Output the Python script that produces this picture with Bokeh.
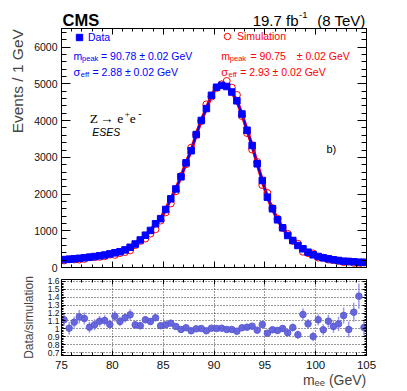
import math
from bokeh.plotting import figure
from bokeh.layouts import column
from bokeh.core.properties import value
from bokeh.models import (Range1d, LinearAxis, SingleIntervalTicker, Label, Legend,
                          LegendItem, ColumnDataSource, CustomJSTickFormatter)
from bokeh.embed import file_html
from bokeh.resources import INLINE

# ---------------- data ----------------
mass = [75.25, 75.75, 76.25, 76.75, 77.25, 77.75, 78.25, 78.75, 79.25, 79.75,
        80.25, 80.75, 81.25, 81.75, 82.25, 82.75, 83.25, 83.75, 84.25, 84.75,
        85.25, 85.75, 86.25, 86.75, 87.25, 87.75, 88.25, 88.75, 89.25, 89.75,
        90.25, 90.75, 91.25, 91.75, 92.25, 92.75, 93.25, 93.75, 94.25, 94.75,
        95.25, 95.75, 96.25, 96.75, 97.25, 97.75, 98.25, 98.75, 99.25, 99.75,
        100.25, 100.75, 101.25, 101.75, 102.25, 102.75, 103.25, 103.75, 104.25, 104.75]

data_events = [215, 225, 237, 250, 265, 282, 298, 318, 340, 370,
               400, 430, 480, 550, 640, 750, 880, 1010, 1190, 1330,
               1580, 1870, 2140, 2470, 2850, 3180, 3620, 4005, 4330, 4690,
               4910, 4960, 4930, 4780, 4540, 4180, 3740, 3324, 2825, 2371,
               1916, 1599, 1299, 1082, 872, 736, 600, 510, 417, 346,
               300, 264, 237, 210, 191, 172, 163, 155, 145, 140]

sim_events = [193, 223, 219, 217, 234, 276, 284, 290, 307, 351,
              345, 393, 421, 467, 609, 721, 789, 924, 1044, 1279,
              1503, 1744, 2078, 2490, 2813, 3262, 3620, 3989, 4441, 4653,
              4890, 4990, 5080, 4900, 4700, 4126, 3663, 3215, 2874, 2247,
              2028, 1618, 1327, 1078, 918, 724, 649, 431, 392, 383,
              269, 267, 216, 204, 180, 147, 164, 128, 103, 138]

ratio = [1.115, 1.008, 1.084, 1.152, 1.131, 1.021, 1.051, 1.097, 1.106, 1.055,
         1.160, 1.093, 1.140, 1.178, 1.051, 1.040, 1.115, 1.093, 1.140, 1.040,
         1.051, 1.072, 1.030, 0.992, 1.013, 0.975, 1.000, 1.004, 0.975, 1.008,
         1.004, 1.008, 0.992, 0.992, 0.970, 1.013, 1.021, 1.034, 0.983, 1.055,
         0.945, 0.988, 0.979, 1.004, 0.950, 1.017, 0.925, 1.182, 1.063, 0.903,
         1.115, 0.988, 1.097, 1.030, 1.063, 1.169, 0.992, 1.211, 1.414, 1.017]

ratio_err = [0.075, 0.08, 0.07, 0.085, 0.075, 0.07, 0.07, 0.07, 0.065, 0.06,
             0.07, 0.06, 0.06, 0.07, 0.05, 0.05, 0.045, 0.04, 0.04, 0.035,
             0.03, 0.03, 0.025, 0.02, 0.02, 0.02, 0.015, 0.015, 0.015, 0.015,
             0.015, 0.015, 0.015, 0.015, 0.015, 0.015, 0.02, 0.02, 0.025, 0.03,
             0.03, 0.035, 0.035, 0.04, 0.045, 0.05, 0.05, 0.075, 0.06, 0.06,
             0.07, 0.07, 0.08, 0.08, 0.09, 0.10, 0.10, 0.12, 0.16, 0.10]

# ---------------- layout (page pixels, page origin at the canvas corner) ----------------
SANS = "Liberation Sans"
SERIF = "Liberation Serif"
FRAME_L, FRAME_R = 61, 366
TOP_T, TOP_B = 28, 267
BOT_T, BOT_B = 279, 355
X_MIN, X_MAX = 75.0, 105.0
TOP_YMAX = 6510.0
BOT_YMIN, BOT_YMAX = 0.662, 1.625
BLUE = "#0000ff"
RED = "#ff0000"
FIG_W = 386
HDR_H = 28
BORDER_L = FRAME_L
BORDER_R = FIG_W - FRAME_R
NBSP = "\u00a0"


def px_x(px):
    return X_MIN + (px - FRAME_L) * (X_MAX - X_MIN) / (FRAME_R - FRAME_L)


def px_top(py):
    return TOP_YMAX * (TOP_B - py) / (TOP_B - TOP_T)


def txt(fig, xpx, ypx, text, size, color="black", align="left",
        style="normal", font=SANS):
    fig.add_layout(Label(x=px_x(xpx), y=px_top(ypx), text=text, text_font=font,
                         text_font_size=size, text_color=color, text_align=align,
                         text_font_style=style, text_baseline="alphabetic"))


EMPTY = CustomJSTickFormatter(code="return '';")


def style_axis(ax, ticker, tick_in, minor_in, labels=True, size="10.5px", standoff=4):
    ax.ticker = ticker
    ax.major_tick_in = tick_in
    ax.major_tick_out = 0
    ax.minor_tick_in = minor_in
    ax.minor_tick_out = 0
    ax.axis_line_color = "black"
    ax.major_tick_line_color = "black"
    ax.minor_tick_line_color = "black"
    if labels:
        ax.major_label_text_font = SANS
        ax.major_label_text_font_size = size
        ax.major_label_text_color = "#111111"
        ax.major_label_standoff = standoff
    else:
        ax.formatter = EMPTY
        ax.major_label_text_font_size = "0px"
        ax.major_label_standoff = 0


# ---------------- header strip (CMS / luminosity), page-pixel coordinates ----------------
hdr = figure(frame_width=FRAME_R - FRAME_L, frame_height=HDR_H,
             x_range=Range1d(FRAME_L, FRAME_R), y_range=Range1d(HDR_H, 0),
             x_axis_type=None, y_axis_type=None,
             output_backend="svg", toolbar_location=None,
             min_border_left=BORDER_L, min_border_right=BORDER_R,
             min_border_top=0, min_border_bottom=0, outline_line_color=None)
hdr.text(x=[62], y=[19.5], text=["CMS"], text_font=value(SANS), text_font_size="16.5px",
         text_font_style="bold", text_baseline="alphabetic", text_align="left")
hdr.text(x=[298], y=[19.5], text=["19.7 fb"], text_font=value(SANS), text_font_size="15px",
         text_baseline="alphabetic", text_align="right")
hdr.text(x=[298.5], y=[14], text=["-1"], text_font=value(SANS), text_font_size="9.5px",
         text_baseline="alphabetic", text_align="left")
hdr.text(x=[365], y=[19.5], text=["(8 TeV)"], text_font=value(SANS), text_font_size="15px",
         text_baseline="alphabetic", text_align="right")

# ---------------- top panel ----------------
p = figure(frame_width=FRAME_R - FRAME_L, frame_height=TOP_B - TOP_T,
           x_range=Range1d(X_MIN, X_MAX), y_range=Range1d(0, TOP_YMAX),
           output_backend="svg", toolbar_location=None,
           min_border_left=BORDER_L, min_border_right=BORDER_R,
           min_border_top=TOP_T - HDR_H, min_border_bottom=6,
           outline_line_color="black", background_fill_color="white")
p.grid.visible = False

xt_top = SingleIntervalTicker(interval=5, num_minor_ticks=5)
yt_top = SingleIntervalTicker(interval=1000, num_minor_ticks=5)
style_axis(p.below[0], xt_top, 6, 3, labels=False)
yl = p.left[0]
style_axis(yl, yt_top, 9, 5, labels=True, size="10.5px", standoff=4)
# leading no-break spaces push the (centred) title towards the top of the axis
yl.axis_label = NBSP * 31 + "Events / 1 GeV"
yl.axis_label_text_font = SANS
yl.axis_label_text_font_style = "normal"
yl.axis_label_text_font_size = "15.5px"
yl.axis_label_standoff = 5
ax_r = LinearAxis()
style_axis(ax_r, yt_top, 9, 5, labels=False)
p.add_layout(ax_r, "right")
ax_a = LinearAxis()
style_axis(ax_a, xt_top, 6, 3, labels=False)
p.add_layout(ax_a, "above")

src = ColumnDataSource(dict(m=mass, d=data_events, s=sim_events))
p.line("m", "d", source=src, line_color=RED, line_width=3.5)
p.line("m", "d", source=src, line_color=BLUE, line_width=2)
circ = p.scatter("m", "s", source=src, marker="circle", size=7, fill_color=None,
                 line_color=RED, line_width=1)
sq = p.scatter("m", "d", source=src, marker="square", size=6.5, fill_color=BLUE,
               line_color=BLUE)

for items, loc, col, stand in (([LegendItem(label="Data", renderers=[sq])], (10, 222), BLUE, 1),
                               ([LegendItem(label="Simulation", renderers=[circ])], (158, 223), RED, 2)):
    leg = Legend(items=items, location=loc, glyph_width=16, glyph_height=16,
                 label_height=16, label_standoff=stand, label_text_font=SANS,
                 label_text_font_size="10.5px", label_text_color=col,
                 padding=0, margin=0, spacing=0, border_line_alpha=0,
                 background_fill_alpha=0)
    p.add_layout(leg)

# statistics text
for (x0, col, mval, sval, split) in ((73, BLUE, "90.78", "2.88", False),
                                     (220.7, RED, "90.75", "2.93", True)):
    txt(p, x0, 55, "m", "10.5px", col)
    txt(p, x0 + 8.6, 58, "peak", "7.5px", col)
    if split:
        txt(p, x0 + 29.3, 55, "= " + mval, "10.5px", col)
        txt(p, x0 + 75.5, 55, "\u00b1 0.02 GeV", "10.5px", col)
    else:
        txt(p, x0 + 27.5, 55, "= " + mval + " \u00b1 0.02 GeV", "10.5px", col)
    txt(p, x0, 71, "\u03c3", "11px", col)
    txt(p, x0 + 7.3, 74, "eff", "7.5px", col)
    txt(p, x0 + 19, 71, "= " + sval + " \u00b1 0.02 GeV", "10.5px", col)

# process label
txt(p, 89.3, 118.3, "Z", "13.5px", font=SERIF)
txt(p, 99.5, 118.3, "\u2192", "13.5px", font=SERIF)
txt(p, 116.7, 118.3, "e", "13.5px", font=SERIF)
txt(p, 124.3, 113, "+", "9px", font=SERIF)
txt(p, 129.3, 118.3, "e", "13.5px", font=SERIF)
txt(p, 137.8, 113, "-", "10px", font=SERIF)
txt(p, 91.7, 131, "ESES", "10.5px", style="italic")
txt(p, 326, 148, "b)", "11px")

# ---------------- ratio panel ----------------
r = figure(frame_width=FRAME_R - FRAME_L, frame_height=BOT_B - BOT_T,
           x_range=Range1d(X_MIN, X_MAX), y_range=Range1d(BOT_YMIN, BOT_YMAX),
           output_backend="svg", toolbar_location=None,
           min_border_left=BORDER_L, min_border_right=BORDER_R,
           min_border_top=BOT_T - TOP_B - 6, min_border_bottom=35,
           outline_line_color="black", background_fill_color="white")

xt_bot = SingleIntervalTicker(interval=5, num_minor_ticks=5)
yt_bot = SingleIntervalTicker(interval=0.1, num_minor_ticks=5)
xb = r.below[0]
style_axis(xb, xt_bot, 5, 3, labels=True, size="11.5px", standoff=5)
# leading no-break spaces push the centred title to the right end of the axis
xb.axis_label = NBSP * 62 + "m\u2091\u2091 (GeV)"
xb.axis_label_text_font = SANS
xb.axis_label_text_font_style = "normal"
xb.axis_label_text_font_size = "14px"
xb.axis_label_standoff = 0

style_axis(r.left[0], yt_bot, 4, 2, labels=True, size="8.5px", standoff=2)
r.left[0].formatter = CustomJSTickFormatter(code="return String(Math.round(tick*10)/10);")
r.left[0].axis_label = "Data/simulation"
r.left[0].axis_label_text_font = SANS
r.left[0].axis_label_text_font_style = "normal"
r.left[0].axis_label_text_font_size = "12px"
r.left[0].axis_label_standoff = 9
br = LinearAxis()
style_axis(br, yt_bot, 4, 2, labels=False)
r.add_layout(br, "right")
ba = LinearAxis()
style_axis(ba, xt_bot, 5, 3, labels=False)
r.add_layout(ba, "above")

r.xgrid.grid_line_color = "#333333"
r.xgrid.grid_line_dash = "1 2"
r.ygrid.grid_line_color = "#333333"
r.ygrid.grid_line_dash = "1 2"

lo = [v - e for v, e in zip(ratio, ratio_err)]
hi = [v + e for v, e in zip(ratio, ratio_err)]
rsrc = ColumnDataSource(dict(m=mass, r=ratio, lo=lo, hi=hi))
r.segment("m", "lo", "m", "hi", source=rsrc, line_color="#8a8ae6", line_width=1.5,
          line_alpha=0.85)
r.scatter("m", "r", source=rsrc, marker="circle", size=6.5, fill_color="#5b5bd8",
          line_color="#5b5bd8", fill_alpha=0.9)

layout = column(hdr, p, r, spacing=0)
open("out.html", "w").write(file_html(layout, INLINE))
